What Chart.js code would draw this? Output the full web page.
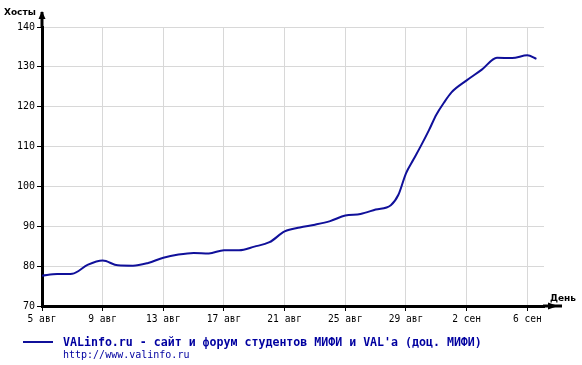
<!DOCTYPE html>
<html>
<head>
<meta charset="utf-8">
<script src="https://cdn.jsdelivr.net/npm/chart.js@4/dist/chart.umd.min.js"></script>
<style>
    body { margin: 0; background: #fff; }
    #wrap { position: relative; width: 582px; height: 365px; }
    #legend-line { position: absolute; left: 23px; top: 341px; width: 30px; height: 0; border-top: 2px solid #10109a; }
    #legend-title { position: absolute; left: 63px; top: 335px; font: bold 11.6px "DejaVu Sans Mono", monospace; color: #0000a0; white-space: pre; }
    #legend-url { position: absolute; left: 63px; top: 349px; font: 10px "DejaVu Sans Mono", monospace; color: #0000a0; white-space: pre; }
</style>
</head>
<body>
<div id="wrap">
    <canvas id="hostsChart" width="582" height="365"></canvas>
    <div id="legend-line"></div>
    <div id="legend-title">VALinfo.ru - сайт и форум студентов МИФИ и VAL'a (доц. МИФИ)</div>
    <div id="legend-url">http://www.valinfo.ru</div>
</div>
<script>
// дни от 5 авг (0 = 5 авг)
const days = [0, 1, 2, 3, 4, 5, 6, 7, 8, 9, 10, 11, 12, 13, 14, 15, 16, 17, 18, 19, 20,
    21, 22, 23, 23.5, 24, 24.5, 25, 25.5, 26, 26.5, 27, 28, 29, 30, 31, 32, 32.6];
const hosts = [77.6, 78.0, 78.1, 80.3, 81.4, 80.2, 80.1, 80.8, 82.1, 82.9, 83.3, 83.2, 84.0,
    84.0, 84.9, 86.0, 88.7, 89.7, 90.4, 91.3, 92.7, 93.1, 94.2, 95.3, 97.9, 103.3, 106.8,
    110.3, 114.0, 118.0, 121.0, 123.6, 126.6, 129.3, 132.3, 132.2, 132.9, 132.0];
const tickLabels = ["5 авг", "9 авг", "13 авг", "17 авг", "21 авг", "25 авг", "29 авг", "2 сен", "6 сен"];
const seriesName = "VALinfo.ru - сайт и форум студентов МИФИ и VAL'a (доц. МИФИ)";

let points = [];
for (let i = 0; i < days.length; i++) {
    points.push({ x: days[i], y: hosts[i] });
}

// стрелки осей и подписи "Хосты" / "День"
const axisArrows = {
    id: "axisArrows",
    afterDraw(chart) {
        const ctx = chart.ctx;
        const area = chart.chartArea;
        ctx.save();
        ctx.strokeStyle = "#000";
        ctx.fillStyle = "#000";
        ctx.lineWidth = 3;

        ctx.beginPath();
        ctx.moveTo(area.right - 1, area.bottom);
        ctx.lineTo(area.right + 18, area.bottom);
        ctx.stroke();
        ctx.beginPath();
        ctx.moveTo(area.right + 4, area.bottom - 3.5);
        ctx.lineTo(area.right + 14, area.bottom);
        ctx.lineTo(area.right + 4, area.bottom + 3.5);
        ctx.closePath();
        ctx.fill();

        ctx.beginPath();
        ctx.moveTo(area.left, area.top + 1);
        ctx.lineTo(area.left, area.top - 15);
        ctx.stroke();
        ctx.beginPath();
        ctx.moveTo(area.left - 3.5, area.top - 8);
        ctx.lineTo(area.left, area.top - 16);
        ctx.lineTo(area.left + 3.5, area.top - 8);
        ctx.closePath();
        ctx.fill();

        ctx.font = "bold 9px 'DejaVu Sans'";
        ctx.textBaseline = "alphabetic";
        ctx.fillText("Хосты", 4, 15);
        ctx.fillText("День", 550, 301);
        ctx.restore();
    }
};

const canvas = document.getElementById("hostsChart");
const myChart = new Chart(canvas, {
    type: "line",
    data: {
        datasets: [
            {
                label: seriesName,
                data: points,
                borderColor: "#10109a",
                borderWidth: 2,
                pointRadius: 0,
                fill: false,
                cubicInterpolationMode: "monotone",
            },
        ],
    },
    options: {
        responsive: false,
        animation: false,
        layout: { padding: { top: 27, right: 38, left: 0, bottom: 0 } },
        plugins: {
            legend: { display: false },
            tooltip: { enabled: false },
        },
        scales: {
            x: {
                type: "linear",
                min: 0,
                max: 33.1,
                afterFit(scale) { scale.height = 59; },
                afterBuildTicks(scale) {
                    scale.ticks = tickLabels.map((t, i) => ({ value: i * 4 }));
                },
                ticks: {
                    color: "#000",
                    font: { family: "DejaVu Sans Mono", size: 9.6 },
                    padding: 3,
                    maxRotation: 0,
                    autoSkip: false,
                    callback: (v) => tickLabels[Math.round(v / 4)],
                },
                grid: { color: "#d8d8d8", tickColor: "#000", tickLength: 5, lineWidth: 1 },
                border: { color: "#000", width: 3 },
            },
            y: {
                min: 70,
                max: 140,
                afterFit(scale) { scale.width = 42; },
                ticks: {
                    stepSize: 10,
                    color: "#000",
                    font: { family: "DejaVu Sans Mono", size: 10 },
                    padding: 2,
                },
                grid: { color: "#d8d8d8", tickColor: "#000", tickLength: 5, lineWidth: 1 },
                border: { color: "#000", width: 3 },
            },
        },
    },
    plugins: [axisArrows],
});
</script>
</body>
</html>
